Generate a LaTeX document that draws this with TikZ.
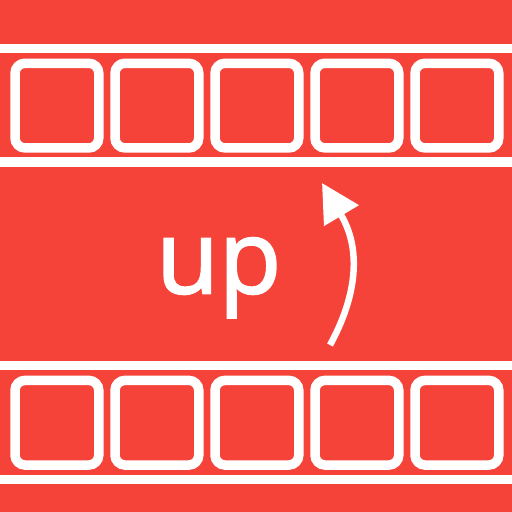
\documentclass[tikz,border=0pt]{standalone}
\usepackage{fontspec}
\newfontfamily\labelfont[FakeBold=2]{Open Sans}
\usetikzlibrary{arrows.meta}
\definecolor{bgred}{RGB}{245,67,57}
\tikzset{
  rail/.style={white,line width=9.5pt},
  cell/.style={draw=white,line width=9.5pt,rounded corners=10pt,minimum width=83.8pt,minimum height=84.7pt,inner sep=0pt},
  uparrow/.style={white,line width=6.5pt,-{Triangle[length=38pt,width=39pt]}},
}
\begin{document}
\begin{tikzpicture}[x=1pt,y=-1pt]
\fill[bgred] (0,0) rectangle (512,512);
\useasboundingbox (0,0) rectangle (512,512);
\draw[rail] (0,48.3) -- (512,48.3);
\draw[rail] (0,162) -- (512,162);
\draw[rail] (0,365.3) -- (512,365.3);
\draw[rail] (0,479.5) -- (512,479.5);
\foreach \i in {0,...,4}{
  \node[cell] (t\i) at (56.9+100*\i,105.6) {};
  \node[cell] (b\i) at (56.9+100*\i,422.7) {};
}
\node[anchor=base west,inner sep=0pt,text=white,font=\labelfont\fontsize{102}{102}\selectfont] (lbl) at (156,293.3) {up};
\coordinate (s) at (330,345);
\coordinate (e) at (322,183);
\draw[uparrow] (s) .. controls (352,305) and (365,255) .. (e);
\end{tikzpicture}
\end{document}
